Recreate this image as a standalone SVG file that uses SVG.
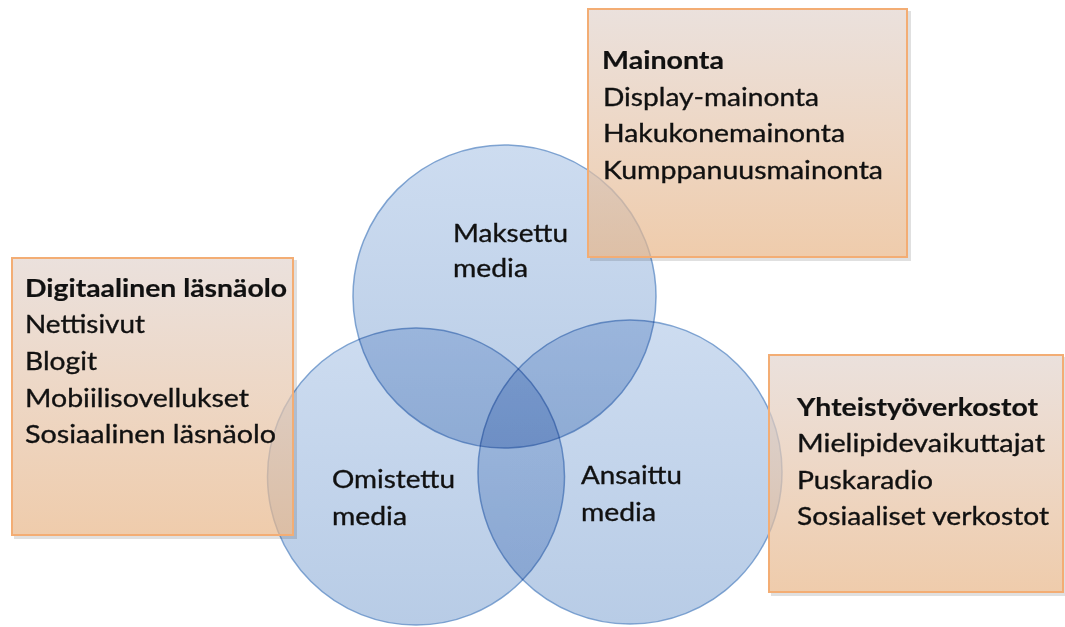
<svg xmlns="http://www.w3.org/2000/svg" width="1065" height="627" viewBox="0 0 1065 627">
<defs>
<linearGradient id="cg" x1="0" y1="0" x2="0" y2="1">
<stop offset="0" stop-color="#cddcf0"/>
<stop offset="1" stop-color="#b8cce6"/>
</linearGradient>
<linearGradient id="bg" x1="0" y1="0" x2="0" y2="1">
<stop offset="0" stop-color="#e2d4ce"/>
<stop offset="0.5" stop-color="#e6c6ac"/>
<stop offset="1" stop-color="#e8b688"/>
</linearGradient>
</defs>
<style>
.c{fill:url(#cg);mix-blend-mode:multiply;stroke:#5b8ac4;stroke-width:1.5;stroke-opacity:0.75}
.box{fill:url(#bg);fill-opacity:0.7;stroke:#f3ad74;stroke-width:2}
.sh{fill:none;stroke:#000;stroke-opacity:0.12;stroke-width:3}
text{font-family:Lato,"Open Sans","Liberation Sans",sans-serif;font-size:25.5px;fill:#111;stroke:#111;stroke-width:0.35}
.b{font-weight:bold;stroke-width:0.2}
</style>
<rect width="1065" height="627" fill="#fff"/>
<g id="circles" style="isolation:isolate">
<g id="maksettu"><circle class="c" cx="504.5" cy="296.5" r="151.5"/></g>
<g id="omistettu"><circle class="c" cx="416" cy="476.5" r="148.5"/></g>
<g id="ansaittu"><circle class="c" cx="630" cy="472" r="152"/></g>
</g>
<g id="connectors"></g>
<g id="box-mainonta">
<path class="sh" d="M590,259.5 H909.5 V11"/>
<rect class="box" x="588" y="9" width="319" height="248"/>
</g>
<g id="box-digitaalinen">
<path class="sh" d="M14,537.5 H295.5 V260"/>
<rect class="box" x="12" y="258" width="281" height="277"/>
</g>
<g id="box-yhteistyo">
<path class="sh" d="M771,594.5 H1065 V357"/>
<rect class="box" x="769" y="355" width="294" height="237"/>
</g>
<g id="labels-circles">
<text x="453" y="242" textLength="115" lengthAdjust="spacingAndGlyphs">Maksettu</text>
<text x="453" y="277" textLength="75" lengthAdjust="spacingAndGlyphs">media</text>
<text x="332" y="488" textLength="123" lengthAdjust="spacingAndGlyphs">Omistettu</text>
<text x="332" y="525" textLength="75" lengthAdjust="spacingAndGlyphs">media</text>
<text x="581" y="484" textLength="101" lengthAdjust="spacingAndGlyphs">Ansaittu</text>
<text x="581" y="521" textLength="75" lengthAdjust="spacingAndGlyphs">media</text>
</g>
<g id="labels-mainonta">
<text class="b" x="602" y="69" textLength="122" lengthAdjust="spacingAndGlyphs">Mainonta</text>
<text x="603" y="106" textLength="216" lengthAdjust="spacingAndGlyphs">Display-mainonta</text>
<text x="603" y="142" textLength="242" lengthAdjust="spacingAndGlyphs">Hakukonemainonta</text>
<text x="603" y="179" textLength="280" lengthAdjust="spacingAndGlyphs">Kumppanuusmainonta</text>
</g>
<g id="labels-digitaalinen">
<text class="b" x="25" y="297" textLength="262" lengthAdjust="spacingAndGlyphs">Digitaalinen läsnäolo</text>
<text x="25" y="333" textLength="120" lengthAdjust="spacingAndGlyphs">Nettisivut</text>
<text x="25" y="370" textLength="72" lengthAdjust="spacingAndGlyphs">Blogit</text>
<text x="25" y="407" textLength="224" lengthAdjust="spacingAndGlyphs">Mobiilisovellukset</text>
<text x="25" y="443" textLength="251" lengthAdjust="spacingAndGlyphs">Sosiaalinen läsnäolo</text>
</g>
<g id="labels-yhteistyo">
<text class="b" x="797" y="416" textLength="241" lengthAdjust="spacingAndGlyphs">Yhteistyöverkostot</text>
<text x="797" y="452" textLength="248" lengthAdjust="spacingAndGlyphs">Mielipidevaikuttajat</text>
<text x="797" y="489" textLength="136" lengthAdjust="spacingAndGlyphs">Puskaradio</text>
<text x="797" y="525" textLength="252" lengthAdjust="spacingAndGlyphs">Sosiaaliset verkostot</text>
</g>
</svg>
